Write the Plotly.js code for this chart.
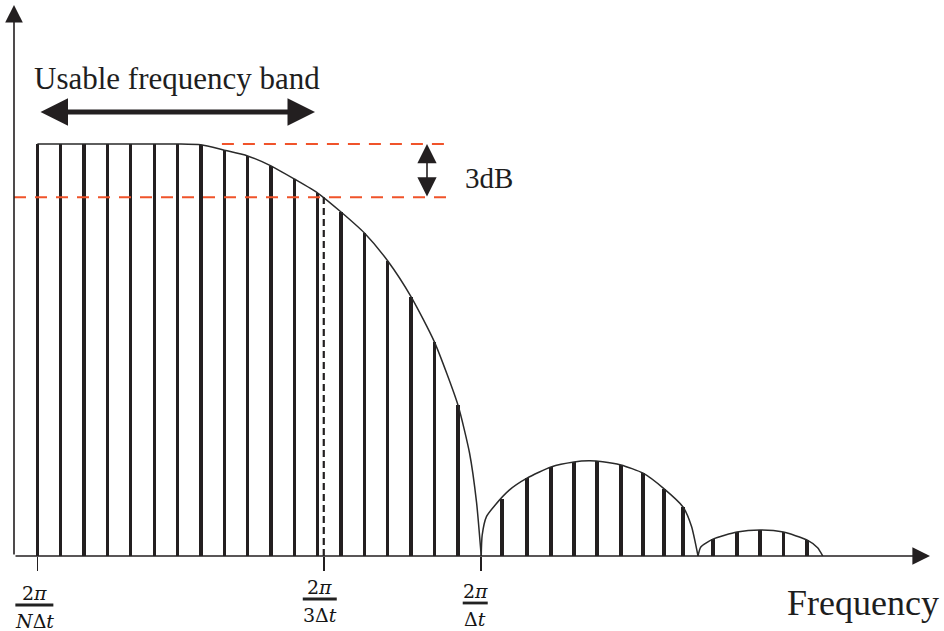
<!DOCTYPE html>
<html>
<head>
<meta charset="utf-8">
<script src="https://cdn.plot.ly/plotly-3.0.1.min.js"></script>
<style>html,body{margin:0;padding:0;background:#fff;}</style>
</head>
<body>
<div id="chart" style="width:944px;height:631px;"></div>
<script>
// Spectral lines of the sampled signal, frequency in multiples of 2π/(NΔt),
// amplitude normalised to the flat top of the main lobe.
const mainFreq = [1, 2, 3, 4, 5, 6, 7, 8, 9, 10, 11, 12, 13, 14, 15, 16, 17, 18, 19];
const mainAmp  = [1, 1, 1, 1, 1, 1, 1, 0.998, 0.985, 0.971, 0.947, 0.915, 0.881, 0.835, 0.784, 0.716, 0.629, 0.519, 0.367];

const lobe1Freq = [20.89, 21.96, 22.99, 23.97, 24.96, 25.98, 26.93, 27.83, 28.64];
const lobe1Amp  = [0.138, 0.189, 0.216, 0.228, 0.231, 0.221, 0.201, 0.163, 0.119];

const lobe2Freq = [29.92, 30.95, 31.93, 32.93, 33.94];
const lobe2Amp  = [0.041, 0.058, 0.063, 0.058, 0.039];

// Envelope of each lobe
const envMainFreq = [1, 7, 8, 9, 10, 11, 12, 13, 14, 15, 16, 17, 18, 19, 19.5, 19.8, 20];
const envMainAmp  = [1, 1, 0.998, 0.985, 0.971, 0.947, 0.915, 0.881, 0.835, 0.784, 0.716, 0.629, 0.519, 0.367, 0.25, 0.13, 0];

const env1Freq = [20, 20.04, 20.22, 20.6, 21.2, 21.96, 22.99, 23.97, 24.6, 25.2, 25.98, 26.93, 27.83, 28.64, 29.0, 29.28];
const env1Amp  = [0, 0.05, 0.095, 0.124, 0.160, 0.189, 0.216, 0.228, 0.231, 0.229, 0.221, 0.201, 0.163, 0.119, 0.072, 0];

const env2Freq = [29.28, 29.4, 29.92, 30.95, 31.93, 32.93, 33.94, 34.4, 34.62];
const env2Amp  = [0, 0.022, 0.041, 0.058, 0.063, 0.058, 0.039, 0.020, 0];

// Levels of the 3 dB band
const peakLevel = 1.0;
const halfPowerLevel = 0.871;
const cutoffFreq = 13.26;   // 2π/(3Δt)

// Axis ticks and their fraction labels
const tickVals = [1, 13.26, 20];
const tickNum  = ['2<i>π</i>', '2<i>π</i>', '2<i>π</i>'];
const tickDen  = ['<i>N</i>Δ<i>t</i>', '3Δ<i>t</i>', 'Δ<i>t</i>'];

const bandLabel = 'Usable frequency band';
const dbLabel = '3dB';
const axisLabel = 'Frequency';

// ---- layout geometry ----
const W = 944, H = 631;
const margin = {l: 14, r: 0, t: 0, b: 75};
const plotW = W - margin.l - margin.r, plotH = H - margin.t - margin.b;
const xRange = [0, 39.81];
const yRange = [0, 1.3495];
const pxX = plotW / (xRange[1] - xRange[0]);
const pxY = plotH / (yRange[1] - yRange[0]);
// page pixel -> data / paper coordinates
const dataX = px => (px - margin.l) / pxX;
const dataY = py => (margin.t + plotH - py) / pxY;
const paperX = px => (px - margin.l) / plotW;
const paperY = py => (margin.t + plotH - py) / plotH;

const ink = '#231f20';
const red = '#f0532a';
const stemWidth = 3.3 / pxX;

const stems = (f, a) => ({
  type: 'bar', x: f, y: a, width: stemWidth, marker: {color: ink, line: {width: 0}},
  hoverinfo: 'skip', showlegend: false
});
const envelope = (f, a) => ({
  type: 'scatter', mode: 'lines', x: f, y: a,
  line: {color: '#2a2a2a', width: 1.5, shape: 'spline', smoothing: 0.6},
  cliponaxis: false, hoverinfo: 'skip', showlegend: false
});

const data = [
  envelope(envMainFreq, envMainAmp),
  envelope(env1Freq, env1Amp),
  envelope(env2Freq, env2Amp),
  // 3 dB reference lines
  {type: 'scatter', mode: 'lines', x: [0, 18.76], y: [halfPowerLevel, halfPowerLevel],
   line: {color: red, width: 2, dash: '12px,9px'}, hoverinfo: 'skip', showlegend: false, cliponaxis: false},
  {type: 'scatter', mode: 'lines', x: [8.9, 18.76], y: [peakLevel, peakLevel],
   line: {color: red, width: 2, dash: '12px,9px'}, hoverinfo: 'skip', showlegend: false},
  // cut-off marker
  {type: 'scatter', mode: 'lines', x: [cutoffFreq, cutoffFreq], y: [0, halfPowerLevel],
   line: {color: ink, width: 2.2, dash: '7px,4px'}, hoverinfo: 'skip', showlegend: false},
  // spectral lines on top
  stems(mainFreq, mainAmp),
  stems(lobe1Freq, lobe1Amp),
  stems(lobe2Freq, lobe2Amp)
];

const serif = 'Liberation Serif, Times New Roman, serif';
const mathFont = {family: 'DejaVu Serif, serif', size: 19, color: '#151515'};

// arrow with its tip at page pixel (x, y) and tail at (ax, ay)
function arrow(x, y, ax, ay, w, s, both) {
  const a = {x: dataX(x), y: dataY(y), ax: dataX(ax), ay: dataY(ay), xref: 'x', yref: 'y', axref: 'x', ayref: 'y',
    text: '', showarrow: true, arrowhead: 2, arrowsize: s, arrowwidth: w, arrowcolor: ink, standoff: 0};
  if (both) { a.arrowside = 'end+start'; a.startarrowhead = 2; a.startarrowsize = s; a.startstandoff = 0; }
  return a;
}
function label(text, x, y, font) {
  return {x: paperX(x), y: paperY(y), xref: 'paper', yref: 'paper', text: text, showarrow: false,
    font: font, xanchor: 'center', yanchor: 'middle'};
}

const annotations = [
  // axes
  arrow(930, 556, 14, 556, 1.6, 2.2, false),
  arrow(14, 5, 14, 556, 1.6, 2.2, false),
  // usable band
  arrow(315, 112, 39, 112, 5, 1.1, true),
  label(bandLabel, 177, 78, {family: serif, size: 31, color: '#1e1e1e'}),
  // 3 dB span
  arrow(427, 144, 427, 198, 1.6, 2.4, true),
  label(dbLabel, 489, 178, {family: serif, size: 29, color: '#1e1e1e'}),
  // axis title
  label(axisLabel, 863, 603, {family: serif, size: 36, color: '#1e1e1e'})
];

// fraction tick labels: horizontal shift, bar position (page px), bar half width
const fracShift = [-3, -4, -6];
const fracBarY  = [605, 599, 603];
const fracHalf  = [19, 17, 12.5];
const shapes = [];
tickVals.forEach((v, i) => {
  const cx = margin.l + v * pxX + fracShift[i];
  annotations.push(label(tickNum[i], cx, fracBarY[i] - 12, mathFont));
  annotations.push(label(tickDen[i], cx, fracBarY[i] + 15.5, mathFont));
  shapes.push({type: 'line', xref: 'paper', yref: 'paper',
    x0: paperX(cx - fracHalf[i]), x1: paperX(cx + fracHalf[i]),
    y0: paperY(fracBarY[i]), y1: paperY(fracBarY[i]),
    line: {color: '#222', width: 2.8}});
});

const layout = {
  width: W, height: H, margin: margin,
  paper_bgcolor: '#fff', plot_bgcolor: '#fff',
  showlegend: false, bargap: 0,
  xaxis: {range: xRange, showgrid: false, zeroline: false, showline: false,
          ticks: 'outside', ticklen: 14, tickwidth: 1.6, tickcolor: ink,
          tickvals: tickVals, showticklabels: false, fixedrange: true},
  yaxis: {range: yRange, showgrid: false, zeroline: false, showline: false,
          showticklabels: false, ticks: '', fixedrange: true},
  annotations: annotations,
  shapes: shapes
};

Plotly.newPlot('chart', data, layout, {staticPlot: true, displayModeBar: false});
</script>
</body>
</html>
